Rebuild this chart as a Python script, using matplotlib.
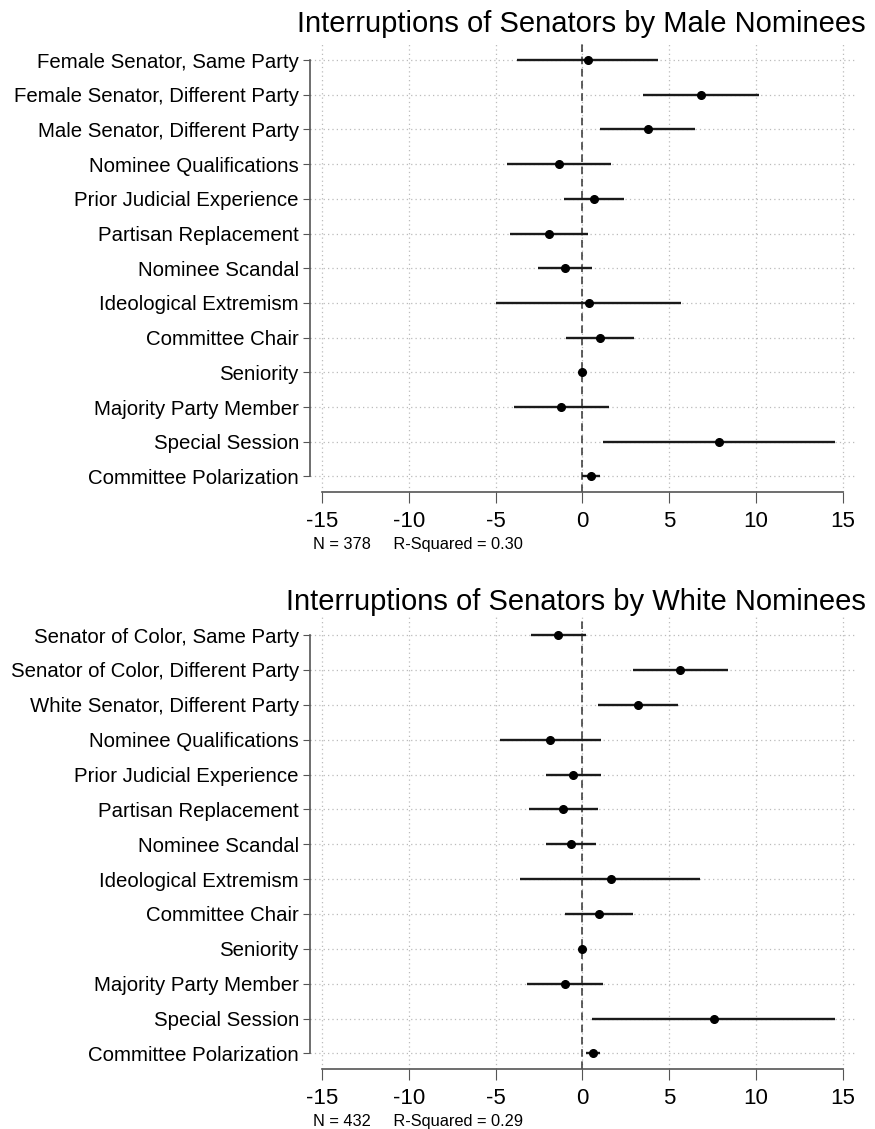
import matplotlib
matplotlib.use('Agg')
import matplotlib.pyplot as plt

plt.rcParams['font.family'] = ['Liberation Sans', 'DejaVu Sans']

# top panel: male nominees
male_labels = ['Female Senator, Same Party', 'Female Senator, Different Party',
               'Male Senator, Different Party', 'Nominee Qualifications',
               'Prior Judicial Experience', 'Partisan Replacement', 'Nominee Scandal',
               'Ideological Extremism', 'Committee Chair', 'Seniority',
               'Majority Party Member', 'Special Session', 'Committee Polarization']
male_est = [0.30, 6.86, 3.76, -1.35, 0.65, -1.95, -1.00, 0.36, 1.00, 0.0, -1.21, 7.89, 0.48]
male_lo = [-3.76, 3.50, 1.02, -4.32, -1.08, -4.20, -2.55, -5.00, -0.96, -0.05, -3.95, 1.21, 0.0]
male_hi = [4.34, 10.18, 6.51, 1.64, 2.42, 0.30, 0.55, 5.70, 2.98, 0.05, 1.54, 14.55, 1.00]

# bottom panel: white nominees
white_labels = ['Senator of Color, Same Party', 'Senator of Color, Different Party',
                'White Senator, Different Party', 'Nominee Qualifications',
                'Prior Judicial Experience', 'Partisan Replacement', 'Nominee Scandal',
                'Ideological Extremism', 'Committee Chair', 'Seniority',
                'Majority Party Member', 'Special Session', 'Committee Polarization']
white_est = [-1.38, 5.63, 3.20, -1.87, -0.53, -1.11, -0.66, 1.62, 0.97, 0.0, -1.00, 7.56, 0.60]
white_lo = [-2.96, 2.90, 0.92, -4.76, -2.12, -3.06, -2.12, -3.57, -1.00, -0.05, -3.18, 0.55, 0.20]
white_hi = [0.21, 8.36, 5.50, 1.05, 1.05, 0.90, 0.76, 6.80, 2.94, 0.05, 1.17, 14.56, 1.03]

xticks = [-15, -10, -5, 0, 5, 10, 15]

panels = [
    ('Interruptions of Senators by Male Nominees', male_labels, male_est, male_lo, male_hi,
     'N = 378     R-Squared = 0.30', [0.3543, 0.5642, 0.6227, 0.3986], 0.9787),
    ('Interruptions of Senators by White Nominees', white_labels, white_est, white_lo, white_hi,
     'N = 432     R-Squared = 0.29', [0.3543, 0.0531, 0.6227, 0.4004], 0.4667),
]

fig = plt.figure(figsize=(8.75, 11.29), dpi=100)

for title, labels, est, lo, hi, note, rect, title_y in panels:
    ax = fig.add_axes(rect)
    n = len(labels)
    ys = list(range(n))
    for spine in ['top', 'right']:
        ax.spines[spine].set_visible(False)
    ax.spines['left'].set_bounds(0, n - 1)
    ax.spines['bottom'].set_bounds(-15, 15)
    for spine in ['left', 'bottom']:
        ax.spines[spine].set_color('#555555')
        ax.spines[spine].set_linewidth(1.2)

    ax.set_xlim(-15.7, 15.7)
    ax.set_ylim(n - 1 + 0.45, -0.52)

    for x in xticks:
        ax.axvline(x, color='#bbbbbb', linestyle=(0, (1, 2.5)), linewidth=0.9, zorder=0)
    for y in ys:
        ax.axhline(y, color='#bbbbbb', linestyle=(0, (1, 2.5)), linewidth=0.9, zorder=0)
    ax.axvline(0, color='#333333', linestyle=(0, (5, 3)), linewidth=1.1, zorder=1)

    ax.hlines(ys, lo, hi, color='#1a1a1a', linewidth=1.7, zorder=2)
    ax.plot(est, ys, 'o', color='black', markersize=5.5, zorder=3)

    ax.set_yticks(ys)
    ax.set_yticklabels(labels, fontsize=14.7)
    ax.set_xticks(xticks)
    ax.set_xticklabels([str(t) for t in xticks], fontsize=16)
    ax.tick_params(axis='y', direction='out', length=5, color='#555555', pad=3)
    ax.tick_params(axis='x', direction='out', length=8, color='#555555', pad=6)

    fig.text(0.989, title_y, title, ha='right', va='center', fontsize=21)
    ax.text(-15.5, n - 1 + 0.45 + 1.5, note, fontsize=11.8, va='center', ha='left')

fig.savefig('out.png', dpi=100)
